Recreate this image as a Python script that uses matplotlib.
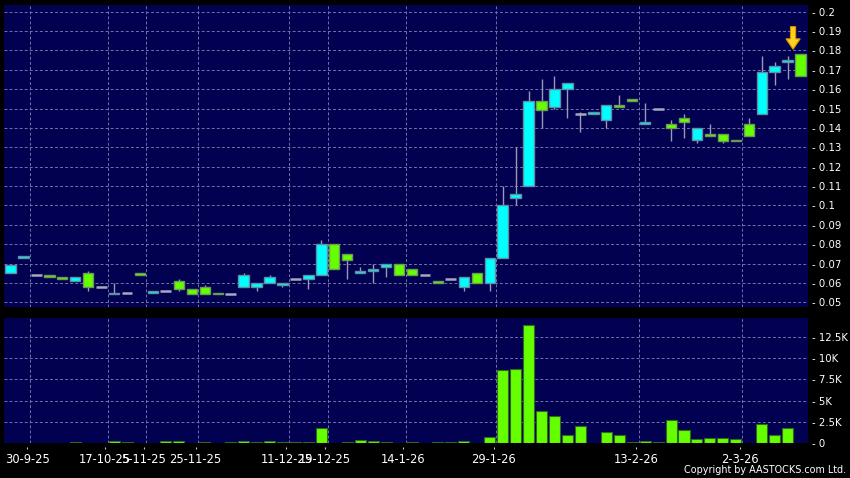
import matplotlib
matplotlib.use("Agg")
import matplotlib.pyplot as plt
from matplotlib.patches import Polygon
import matplotlib.transforms as mtransforms

# ---- data (one entry per trading day shown) ----
opens = [0.065, 0.073, 0.064, 0.064, 0.063, 0.061, 0.065, 0.058, 0.054, 0.055,
         0.065, 0.055, 0.056, 0.061, 0.057, 0.058, 0.055, 0.054, 0.058, 0.058,
         0.060, 0.059, 0.062, 0.062, 0.064, 0.080, 0.075, 0.065, 0.066, 0.068,
         0.070, 0.067, 0.064, 0.061, 0.062, 0.058, 0.065, 0.060, 0.073, 0.104,
         0.110, 0.154, 0.151, 0.160, 0.147, 0.147, 0.144, 0.152, 0.155, 0.142,
         0.150, 0.142, 0.145, 0.134, 0.137, 0.137, 0.134, 0.142, 0.147, 0.169,
         0.174, 0.178]
highs = [0.069, 0.074, 0.064, 0.064, 0.063, 0.063, 0.066, 0.058, 0.060, 0.055,
         0.065, 0.056, 0.056, 0.062, 0.057, 0.059, 0.055, 0.054, 0.065, 0.060,
         0.064, 0.060, 0.062, 0.064, 0.082, 0.080, 0.075, 0.068, 0.070, 0.070,
         0.070, 0.067, 0.064, 0.061, 0.062, 0.063, 0.065, 0.073, 0.110, 0.130,
         0.159, 0.165, 0.167, 0.163, 0.148, 0.148, 0.152, 0.157, 0.155, 0.153,
         0.150, 0.144, 0.147, 0.140, 0.142, 0.137, 0.134, 0.145, 0.177, 0.174,
         0.177, 0.178]
lows = [0.065, 0.073, 0.064, 0.063, 0.062, 0.061, 0.056, 0.058, 0.054, 0.055,
        0.064, 0.055, 0.056, 0.056, 0.054, 0.054, 0.054, 0.054, 0.058, 0.056,
        0.060, 0.058, 0.062, 0.057, 0.064, 0.067, 0.062, 0.065, 0.060, 0.063,
        0.064, 0.064, 0.064, 0.060, 0.062, 0.056, 0.060, 0.056, 0.073, 0.100,
        0.110, 0.140, 0.150, 0.145, 0.138, 0.147, 0.140, 0.151, 0.154, 0.142,
        0.150, 0.133, 0.135, 0.132, 0.136, 0.132, 0.133, 0.136, 0.147, 0.162,
        0.165, 0.167]
closes = [0.069, 0.074, 0.064, 0.063, 0.062, 0.063, 0.058, 0.058, 0.055, 0.055,
          0.064, 0.056, 0.056, 0.057, 0.054, 0.054, 0.054, 0.054, 0.064, 0.060,
          0.063, 0.060, 0.062, 0.064, 0.080, 0.067, 0.072, 0.066, 0.067, 0.070,
          0.064, 0.064, 0.064, 0.060, 0.062, 0.063, 0.060, 0.073, 0.100, 0.106,
          0.154, 0.149, 0.160, 0.163, 0.147, 0.148, 0.152, 0.151, 0.154, 0.143,
          0.150, 0.140, 0.143, 0.140, 0.136, 0.133, 0.133, 0.136, 0.169, 0.172,
          0.175, 0.167]
volumes = [20, 20, 20, 20, 20, 120, 40, 20, 300, 160,
           20, 20, 270, 270, 40, 160, 40, 120, 270, 160,
           310, 160, 120, 160, 1850, 80, 160, 350, 270, 160,
           40, 160, 20, 200, 200, 270, 40, 700, 8650, 8750,
           13900, 3730, 3220, 980, 2040, 80, 1380, 940, 200, 270,
           120, 2750, 1570, 510, 630, 590, 470, 40, 2240, 940,
           1850, 40]
date_labels = ["30-9-25", "17-10-25", "5-11-25", "25-11-25", "11-12-25",
               "19-12-25", "14-1-26", "29-1-26", "13-2-26", "2-3-26"]
date_label_after_day = [1, 7, 10, 14, 21, 24, 30, 37, 48, 56]
price_ticks = [0.05, 0.06, 0.07, 0.08, 0.09, 0.10, 0.11, 0.12, 0.13, 0.14,
               0.15, 0.16, 0.17, 0.18, 0.19, 0.20]
volume_ticks = [0, 2500, 5000, 7500, 10000, 12500]
volume_tick_labels = ["0", "2.5K", "5K", "7.5K", "10K", "12.5K"]

# ---- style ----
NAVY = "#020050"
CYAN = "#00FFFF"
GREEN = "#66FF00"
GRID = "#7272a8"
WICK = "#9a9ab8"
W, H = 850, 478

plt.rcParams["font.family"] = ["DejaVu Sans"]
fig = plt.figure(figsize=(W / 100, H / 100), dpi=100, facecolor="black")
ax1 = fig.add_axes([4 / W, 1 - 306.7 / H, 803.7 / W, 301.7 / H], facecolor=NAVY)
ax2 = fig.add_axes([4 / W, 1 - 443.3 / H, 803.7 / W, 125 / H], facecolor=NAVY, sharex=ax1)

n = len(closes)
xs = list(range(n))
tick_x = [d + 0.5 for d in date_label_after_day]

# candles
for i in xs:
    o, h, l, c = opens[i], highs[i], lows[i], closes[i]
    if h > l:
        ax1.vlines(i, l, h, color=WICK, lw=1.0, zorder=2)
    if c == o:
        ax1.hlines(c, i - 0.42, i + 0.42, color="#a8a8bc", lw=1.8, zorder=3)
    else:
        col = CYAN if c > o else GREEN
        ec = "#5f8fa5" if c > o else "#6a9a58"
        ax1.bar(i, abs(c - o), bottom=min(o, c), width=0.8, color=col,
                edgecolor=ec, linewidth=1.0, zorder=3)

# arrow marker above last candle
ax_last = n - 1 - 0.58
arrow = [(ax_last - 0.2, 0.1923), (ax_last + 0.2, 0.1923), (ax_last + 0.2, 0.1860),
         (ax_last + 0.55, 0.1860), (ax_last, 0.1806), (ax_last - 0.55, 0.1860),
         (ax_last - 0.2, 0.1860)]
ax1.add_patch(Polygon(arrow, closed=True, facecolor="#FFD21F", edgecolor="#D99000",
                      lw=0.8, zorder=5))

# volume bars
ax2.bar(xs, volumes, width=0.85, color=GREEN, edgecolor="#2f6a22", linewidth=0.8, zorder=3)

# axes limits
ax1.set_xlim(-0.5, 61.55)
ax1.set_ylim(0.0477, 0.20346)
ax2.set_ylim(0, 14660)

dash = (0, (3, 2.2))
for ax in (ax1, ax2):
    for s in ax.spines.values():
        s.set_visible(False)
    ax.yaxis.tick_right()
    ax.set_axisbelow(True)
    ax.grid(True, color=GRID, linestyle=dash, linewidth=0.7)
    ax.tick_params(axis="y", length=0, pad=3, labelcolor="white", labelsize=7.3)

ax1.set_yticks(price_ticks)
ax1.set_yticklabels([f"- {v:g}" for v in price_ticks])
ax2.set_yticks(volume_ticks)
ax2.set_yticklabels([f"- {t}" for t in volume_tick_labels])

ax2.set_xticks(tick_x)
ax2.set_xticklabels(date_labels)
ax1.tick_params(axis="x", length=0, labelbottom=False)
ax2.tick_params(axis="x", length=0, pad=7.2, labelcolor="white", labelsize=8.3)

# date labels and their tick marks sit ~2.6 px left of the grid lines
shift = mtransforms.ScaledTranslation(-2.6 / 100, 0, fig.dpi_scale_trans)
for lab in ax2.get_xticklabels():
    lab.set_transform(lab.get_transform() + shift)

trans = mtransforms.blended_transform_factory(ax2.transData, ax2.transAxes) + shift
ax2.vlines(tick_x, -0.027, -0.048, transform=trans, color="#c8c8c8", lw=0.8, clip_on=False)

fig.text(846 / W, 1 - 470 / H, "Copyright by AASTOCKS.com Ltd.", color="white",
         fontsize=6.9, ha="right", va="center")

fig.savefig("out.png", dpi=100, facecolor="black")
